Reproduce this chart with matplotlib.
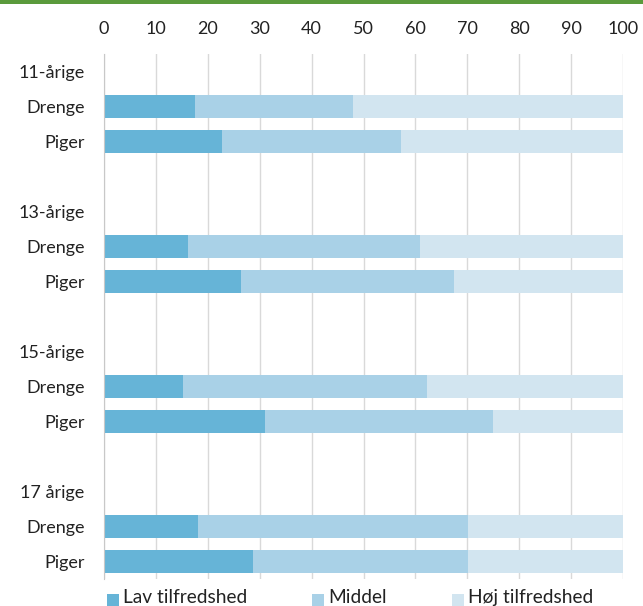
import matplotlib.pyplot as plt
from matplotlib.patches import Rectangle

# rows from top to bottom (blank rows separate the age groups)
row_labels = ['11-årige', 'Drenge', 'Piger', '',
              '13-årige', 'Drenge', 'Piger', '',
              '15-årige', 'Drenge', 'Piger', '',
              '17 årige', 'Drenge', 'Piger']
bar_rows = [1, 2, 5, 6, 9, 10, 13, 14]
lav = [17.5, 22.7, 16.2, 26.4, 15.2, 31.0, 18.1, 28.7]
middel = [30.5, 34.5, 44.7, 41.0, 47.0, 44.0, 52.0, 41.4]
hoej = [52.0, 42.8, 39.1, 32.6, 37.8, 25.0, 29.9, 29.9]
series_names = ['Lav tilfredshed', 'Middel', 'Høj tilfredshed']
colors = ['#66b4d7', '#a9d1e7', '#d2e5f0']

plt.rcParams['font.family'] = ['Lato', 'DejaVu Sans']

fig = plt.figure(figsize=(6.43, 6.06), dpi=100)
ax = fig.add_axes([104/643, 1-579/606, 519/643, 525/606])

left = [0]*len(lav)
for vals, c in zip([lav, middel, hoej], colors):
    ax.barh(bar_rows, vals, left=left, height=0.63, color=c, zorder=2)
    left = [a+b for a, b in zip(left, vals)]

ax.set_xlim(0, 100)
ax.set_ylim(len(row_labels)-0.5, -0.5)
ax.set_xticks(range(0, 101, 10))
ax.xaxis.tick_top()
ax.tick_params(axis='x', length=0, pad=12, labelsize=13, colors='#222222')
ax.set_yticks(range(len(row_labels)))
ax.set_yticklabels(row_labels)
ax.tick_params(axis='y', length=0, pad=14, labelsize=13, colors='#222222')
ax.grid(axis='x', color='#d9d9d9', linewidth=1, zorder=0)
for s in ['top', 'right', 'bottom']:
    ax.spines[s].set_visible(False)
ax.spines['left'].set_color('#c8c8c8')
ax.spines['left'].set_zorder(3)

# green rule at the top
fig.add_artist(Rectangle((0, 1-4/606), 1, 4/606, transform=fig.transFigure,
                         color='#5a9a3c', lw=0))

# legend along the bottom edge
leg_x = [107, 312, 452]
for x, name, c in zip(leg_x, series_names, colors):
    fig.add_artist(Rectangle((x/643, 1-606/606), 12/643, 12/606,
                             transform=fig.transFigure, color=c, lw=0))
    fig.text((x+16)/643, 1-603/606, name, fontsize=13.8, color='#222222',
             va='baseline', ha='left')

fig.savefig('out.png', dpi=100)
